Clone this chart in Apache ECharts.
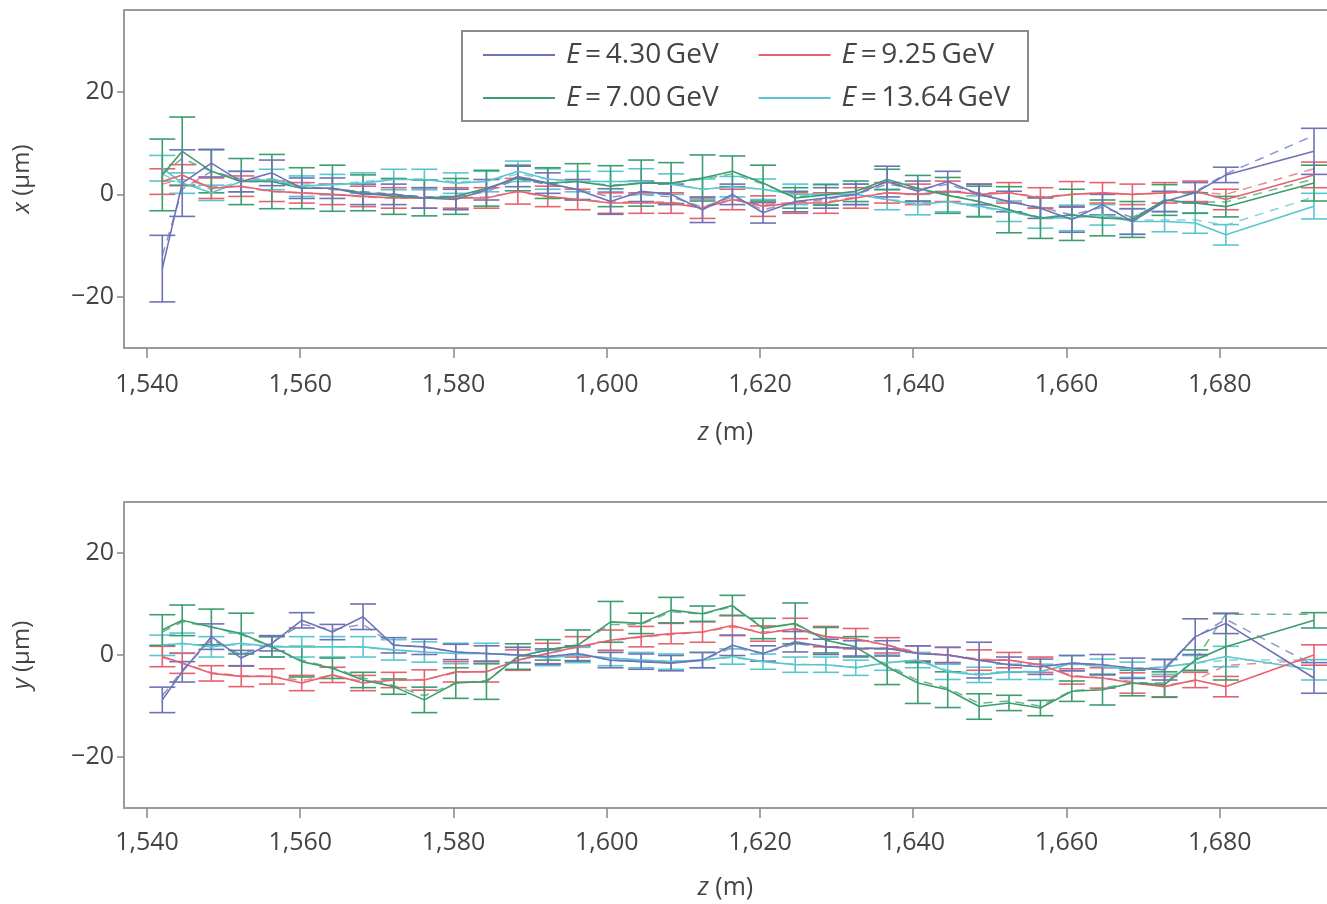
<!DOCTYPE html>
<html><head><meta charset="utf-8">
<script src="https://cdn.jsdelivr.net/npm/echarts@6/dist/echarts.min.js"></script>
<style>html,body{margin:0;padding:0;background:#fff}#c{width:1327px;height:904px}</style>
</head><body><div id="c"></div>
<script>
// ---------- data ----------
const zPos = [1542.0, 1544.6, 1548.4, 1552.3, 1556.3, 1560.2, 1564.2, 1568.2, 1572.2, 1576.2, 1580.3, 1584.3, 1588.4, 1592.3, 1596.2, 1600.5, 1604.5, 1608.4, 1612.5, 1616.4, 1620.4, 1624.6, 1628.6, 1632.5, 1636.6, 1640.6, 1644.5, 1648.6, 1652.5, 1656.6, 1660.7, 1664.7, 1668.6, 1672.8, 1676.8, 1680.8, 1692.3];
const seriesNames = ['E = 4.30 GeV', 'E = 7.00 GeV', 'E = 9.25 GeV', 'E = 13.64 GeV'];
const zTicks = [1540, 1560, 1580, 1600, 1620, 1640, 1660, 1680];
const vTicks = [-20, 0, 20];

// top panel: x (um)
const xBlue  = [-14.5, 2.2, 6.1, 2.5, 4.2, 1.2, 1.2, 0, 0, -0.7, -1, 0.9, 3.5, 2.2, 0.9, -1.4, 0.6, 0, -3, 0, -3.6, -1.4, -0.7, 0, 2.5, 0.6, 2.5, 0, -1.4, -2.7, -4.9, -2, -5.3, -1.4, 0.3, 3.8, 8.4];
const xGreen = [3.8, 8.4, 4.5, 2.5, 2.5, 1.2, 1.2, 0.3, -0.4, -0.7, -0.4, 1.2, 3.2, 2.2, 2.5, 1.6, 2.2, 2.2, 3.2, 4.5, 2.2, -0.7, -0.1, 0.6, 2.9, 1.2, -0.2, -1.4, -3, -4.6, -4, -4.6, -4.9, -1.1, -1.7, -2.4, 2.2];
const xRed   = [2.5, 3.8, 1.2, 1.6, 0.6, 0.3, 0, -0.4, -0.7, -0.7, -0.7, -0.7, 0.6, -0.4, -1, -1.7, -1.7, -1.7, -2.7, -1, -2.3, -1.7, -1.7, -0.7, 0.3, 0, 0.6, 0, 0.3, -0.7, 0, 0.3, 0, 0.3, 0.6, -1, 3.8];
const xCyan  = [5.1, 2.2, 0.3, 2.5, 2.9, 1.6, 1.9, 2.2, 2.9, 2.9, 2.2, 2.5, 4.5, 3, 2.5, 2.5, 2.5, 2, 1, 1.5, 1, 0, 0, 0, -1, -2, -1.4, -2.3, -3.3, -4.6, -4.6, -4, -5.3, -5.3, -5.6, -7.9, -2.3];
const xErrBlue  = [6.5, 6.5, 2.7, 2.0, 2.5, 2.0, 2.0, 2.0, 2.0, 2.0, 2.0, 2.0, 2.0, 2.0, 2.0, 2.5, 2.0, 2.0, 2.5, 2.0, 2.0, 2.0, 2.0, 2.0, 3.0, 2.0, 2.0, 2.0, 2.0, 2.0, 2.5, 2.0, 2.5, 2.0, 2.0, 1.5, 4.5];
const xErrGreen = [7.0, 6.7, 4.2, 4.5, 5.3, 4.0, 4.5, 3.5, 3.5, 3.5, 3.5, 3.5, 2.5, 3.0, 3.5, 4.0, 4.5, 4.0, 4.5, 3.0, 3.5, 2.0, 2.0, 2.0, 2.0, 2.5, 3.5, 3.0, 4.5, 4.0, 5.0, 3.5, 3.5, 3.0, 2.0, 2.0, 3.5];
const xErrRed   = [2.5, 2.0, 2.0, 2.0, 2.0, 2.0, 2.0, 2.0, 2.0, 2.0, 2.0, 2.0, 2.5, 2.0, 2.0, 2.0, 2.0, 2.0, 2.0, 2.0, 2.0, 2.0, 2.0, 2.0, 2.0, 2.0, 2.0, 2.0, 2.0, 2.0, 2.5, 2.0, 2.0, 2.0, 2.0, 2.0, 2.5];
const xErrCyan  = [2.5, 2.0, 1.5, 2.0, 2.0, 2.0, 2.0, 2.0, 2.0, 2.0, 2.0, 2.0, 2.0, 2.0, 2.0, 2.0, 2.5, 2.0, 2.0, 2.0, 2.0, 2.0, 2.0, 2.0, 2.0, 2.0, 2.0, 2.0, 2.0, 2.0, 2.5, 2.0, 2.5, 2.0, 2.0, 2.0, 2.5];
const xFitBlue  = [-12, 1, 4.5, 3, 3, 1.5, 1, 0.5, 0, -0.5, -0.5, 0.5, 3, 2, 1, -0.5, 0, -0.5, -2.5, -0.5, -3, -1.5, -1, 0, 2, 1, 2, 0, -1.5, -2.5, -4, -2.5, -4.5, -1.5, 0.5, 4, 11.5];
const xFitGreen = [4, 7, 4.5, 2.5, 2.5, 1.5, 1, 0.5, 0, -0.5, -0.3, 1, 3, 2, 2.5, 1.8, 2.2, 2.2, 3, 4, 2, -0.5, 0, 0.5, 2.5, 1, 0, -1.5, -3, -4.5, -4, -4.5, -4.5, -1.5, -1.5, -1.5, 3];
const xFitRed   = [2, 3, 1.5, 1.5, 0.5, 0.3, 0, -0.5, -0.7, -0.7, -0.7, -0.5, 0.5, -0.5, -1, -1.5, -1.5, -1.5, -2.5, -1, -2, -1.5, -1.5, -0.5, 0.3, 0, 0.5, 0.3, 0.3, -0.5, 0, 0.3, 0, 0.3, 0.5, 0, 5];
const xFitCyan  = [4, 2, 1, 2.5, 3, 2, 2, 2.5, 3, 3, 2.5, 2.5, 4, 3, 2.5, 2.5, 2.5, 2, 1, 1.5, 1, 0, 0, 0, -1, -1.5, -1.5, -2.5, -3.5, -4.5, -4.5, -4, -5, -5, -5, -6, -0.5];

// bottom panel: y (um)
const yBlue  = [-8.8, -3.3, 3.6, -0.6, 2.3, 6.8, 4.5, 7.5, 1.9, 1.6, 0.6, 0.3, 0, -0.3, 0.3, -1, -1.3, -1.6, -1, 1.9, 0.3, 2.6, 1.6, 1.3, 1.3, 0.3, 0, -1, -1.9, -2.3, -1.6, -1.9, -2.6, -2.9, 3.6, 6.2, -4.5];
const yGreen = [4.9, 6.8, 5.5, 4.2, 1.6, -1.3, -2.6, -4.9, -6.2, -8.8, -5.5, -5.2, -0.3, 1, 1.9, 6.5, 6.2, 8.8, 8.1, 9.7, 5.2, 6.2, 2.9, 1.6, -2.3, -5.5, -6.8, -10.1, -9.4, -10.4, -7.1, -6.8, -5.5, -5.8, -1, 1.6, 6.8];
const yRed   = [-0.3, -1.6, -3.6, -4.2, -4.2, -5.5, -3.9, -5.5, -4.9, -4.9, -3.3, -3.3, -1, 0.3, 1.6, 2.9, 3.6, 4.2, 4.5, 5.8, 4.2, 5.2, 3.6, 3.2, 1.9, 0.3, 0, -1, -1, -1.9, -4.2, -4.5, -5.5, -6.2, -4.9, -6.2, 0];
const yCyan  = [1.9, 2.3, 1.6, 2.3, 1.6, 1.6, 1.6, 1.6, 1, 0.6, 0.3, 0.3, 0, -0.6, 0, -0.6, -1, -1.3, -1, -0.3, -1.3, -1.9, -1.9, -2.5, -1.5, -1, -3.3, -3.9, -3.3, -3.3, -1.6, -2.3, -2.9, -2.3, -1.6, -0.3, -2.9];
const yErrBlue  = [2.5, 2.0, 2.5, 1.5, 1.5, 1.5, 1.5, 2.5, 1.5, 1.5, 1.5, 1.5, 1.5, 1.5, 1.5, 1.5, 1.5, 1.5, 1.5, 2.0, 1.5, 2.0, 1.5, 1.5, 1.5, 1.5, 1.5, 3.5, 1.5, 1.5, 1.5, 2.0, 2.0, 2.0, 3.5, 2.0, 3.0];
const yErrGreen = [3.0, 3.0, 3.5, 4.0, 2.0, 3.0, 2.0, 1.5, 1.5, 2.5, 3.0, 3.5, 2.5, 2.0, 3.0, 4.0, 2.0, 2.5, 1.5, 2.0, 2.0, 4.0, 2.5, 2.0, 3.5, 4.0, 3.5, 2.5, 1.5, 1.5, 2.0, 3.0, 2.5, 2.5, 2.0, 6.5, 1.5];
const yErrRed   = [2.0, 2.0, 1.5, 2.0, 1.5, 1.5, 1.5, 1.5, 1.5, 2.0, 2.0, 2.0, 2.0, 2.0, 2.0, 2.0, 2.0, 2.0, 2.0, 2.0, 1.5, 2.0, 2.0, 2.0, 1.5, 1.5, 1.5, 2.0, 1.5, 1.5, 1.5, 2.0, 2.0, 2.0, 1.5, 2.0, 2.0];
const yErrCyan  = [2.0, 2.0, 2.0, 2.0, 2.0, 2.0, 2.0, 2.0, 2.0, 2.0, 2.0, 2.0, 1.5, 1.5, 1.5, 1.5, 1.5, 1.5, 1.5, 1.5, 1.5, 1.5, 1.5, 1.5, 1.5, 1.5, 1.5, 1.5, 1.5, 1.5, 1.5, 1.5, 1.5, 1.5, 1.5, 2.0, 2.0];
const yFitBlue  = [-8, -3, 3, 0, 2.5, 6, 5, 6, 2, 1.5, 0.6, 0.3, 0, -0.3, 0.3, -1, -1.3, -1.5, -1, 1.5, 0.3, 2.2, 1.6, 1.3, 1.3, 0.3, 0, -1, -1.9, -2.3, -1.6, -1.9, -2.6, -2.5, 3.5, 7, -2];
const yFitGreen = [4.5, 6.5, 5.5, 4, 1.5, -1, -2.5, -4.5, -6, -8, -5.5, -5, -0.5, 1, 2, 6, 6, 8.5, 8, 9.5, 5.5, 6, 3, 1.5, -2, -5, -6.5, -9.5, -9, -10, -7, -6.5, -5.5, -5.5, -1, 8, 8];
const yFitRed   = [-0.5, -1.5, -3.5, -4, -4.2, -5, -4, -5.2, -5, -4.8, -3.5, -3.2, -1, 0.3, 1.5, 2.8, 3.5, 4, 4.5, 5.5, 4.5, 5, 3.6, 3, 2, 0.5, 0, -0.8, -1, -2, -4, -4.5, -5.2, -6, -5, -2, -1];
const yFitCyan  = [2, 2.2, 1.8, 2, 1.8, 1.6, 1.6, 1.5, 1, 0.6, 0.3, 0.3, 0, -0.5, 0, -0.6, -1, -1.2, -1, -0.5, -1.3, -1.8, -1.9, -2.4, -1.5, -1, -3, -3.7, -3.3, -3.2, -1.8, -2.3, -2.8, -2.3, -1.6, -1, -1];

// ---------- styling ----------
const colors = ['#6e72b6', '#3c9d6e', '#e6626e', '#58c6cf'];
const FONT = '"Open Sans", "Noto Sans", sans-serif';
const TXT = '#444';
const FRAME = '#9a9a9a';

const panels = [
  {vals: [xBlue, xGreen, xRed, xCyan], errs: [xErrBlue, xErrGreen, xErrRed, xErrCyan], fits: [xFitBlue, xFitGreen, xFitRed, xFitCyan], vname: 'x'},
  {vals: [yBlue, yGreen, yRed, yCyan], errs: [yErrBlue, yErrGreen, yErrRed, yErrCyan], fits: [yFitBlue, yFitGreen, yFitRed, yFitCyan], vname: 'y'}
];

function fmtComma(v) { const s = String(Math.round(v)); return s.length > 3 ? s.slice(0, s.length - 3) + ',' + s.slice(-3) : s; }
function fmtMinus(v) { return v < 0 ? '\u2212' + (-v) : String(v); }

function errRender(color) {
  return function (params, api) {
    const z = api.value(0), lo = api.value(1), hi = api.value(2);
    const a = api.coord([z, lo]), b = api.coord([z, hi]);
    const w = 13;
    const st = {stroke: color, lineWidth: 1.6, fill: null};
    return {type: 'group', children: [
      {type: 'line', shape: {x1: a[0], y1: a[1], x2: b[0], y2: b[1]}, style: st},
      {type: 'line', shape: {x1: a[0] - w, y1: a[1], x2: a[0] + w, y2: a[1]}, style: st},
      {type: 'line', shape: {x1: b[0] - w, y1: b[1], x2: b[0] + w, y2: b[1]}, style: st}
    ]};
  };
}

const grids = [
  {left: 124, top: 10, right: 0, height: 338},
  {left: 124, top: 502, right: 0, height: 306}
].map(g => Object.assign(g, {show: false}));

const ZMIN = 1537, ZMAX = 1694;
const xAxes = [0, 1].map(i => ({
  type: 'value', gridIndex: i, min: ZMIN, max: ZMAX, position: 'bottom',
  axisLine: {show: true, onZero: false, lineStyle: {color: FRAME, width: 2}},
  axisTick: {show: true, length: 10, lineStyle: {color: '#888', width: 1.5}, customValues: zTicks},
  axisLabel: {customValues: zTicks, formatter: fmtComma, fontSize: 25, color: TXT, margin: i === 0 ? 24 : 22, fontFamily: FONT},
  splitLine: {show: false},
  name: '{i|z} (m)', nameLocation: 'middle', nameGap: i === 0 ? 72 : 67,
  nameTextStyle: {fontSize: 25, color: TXT, fontFamily: FONT, rich: {i: {fontStyle: 'italic', fontSize: 25, color: TXT, fontFamily: FONT}}}
})).concat([0, 1].map(i => ({
  type: 'value', gridIndex: i, min: ZMIN, max: ZMAX, position: 'top',
  axisLine: {show: true, onZero: false, lineStyle: {color: FRAME, width: 2}},
  axisTick: {show: false}, axisLabel: {show: false}, splitLine: {show: false}
})));

const yAxes = [0, 1].map(i => ({
  type: 'value', gridIndex: i, min: -30, max: i === 0 ? 36 : 30,
  axisLine: {show: true, onZero: false, lineStyle: {color: FRAME, width: 2}},
  axisTick: {show: true, length: 7, lineStyle: {color: '#888', width: 1.5}, customValues: vTicks},
  axisLabel: {customValues: vTicks, formatter: fmtMinus, fontSize: 25, color: TXT, margin: 10, fontFamily: FONT},
  splitLine: {show: false},
  name: '{i|' + panels[i].vname + '} (\u03bcm)', nameLocation: 'middle', nameGap: 90,
  nameTextStyle: {fontSize: 24, color: TXT, fontFamily: FONT, rich: {i: {fontStyle: 'italic', fontSize: 24, color: TXT, fontFamily: FONT}}}
}));

const series = [];
const drawOrder = [3, 2, 1, 0];
panels.forEach((p, pi) => {
  drawOrder.forEach(k => {
    series.push({
      name: 'fit' + pi + '_' + k, type: 'line', xAxisIndex: pi, yAxisIndex: pi,
      data: zPos.map((z, j) => [z, p.fits[k][j]]), symbol: 'none', silent: true,
      lineStyle: {color: colors[k], width: 1.5, type: [9, 7], opacity: 0.75}, z: 2
    });
    series.push({
      name: 'err' + pi + '_' + k, type: 'custom', xAxisIndex: pi, yAxisIndex: pi,
      data: zPos.map((z, j) => [z, p.vals[k][j] - p.errs[k][j], p.vals[k][j] + p.errs[k][j]]),
      encode: {x: 0, y: [1, 2]}, renderItem: errRender(colors[k]), silent: true, z: 3
    });
    series.push({
      name: seriesNames[k], type: 'line', xAxisIndex: pi, yAxisIndex: pi,
      data: zPos.map((z, j) => [z, p.vals[k][j]]), symbol: 'none', color: colors[k],
      lineStyle: {color: colors[k], width: 1.6}, z: 4
    });
  });
});

const legendFmt = name => '{i|E}{n|\u2009=\u2009' + name.replace('E = ', '').replace(' GeV', '\u2009GeV') + '}';
const LFS = 28;
const legendText = {
  color: TXT, fontFamily: FONT, fontSize: LFS, padding: [0, 0, 0, 6],
  rich: {i: {fontStyle: 'italic', fontSize: LFS, color: TXT, fontFamily: FONT}, n: {fontSize: LFS, color: TXT, fontFamily: FONT}}
};
const legends = [[seriesNames[0], seriesNames[2]], [seriesNames[1], seriesNames[3]]].map((d, r) => ({
  data: d, left: 483, top: r === 0 ? 41 : 84, orient: 'horizontal', icon: 'rect',
  itemWidth: 72, itemHeight: 2, itemGap: 40, formatter: legendFmt, textStyle: legendText,
  selectedMode: false, padding: 0
}));

const chart = echarts.init(document.getElementById('c'), null, {renderer: 'canvas'});
chart.setOption({
  animation: false,
  backgroundColor: '#fff',
  grid: grids, xAxis: xAxes, yAxis: yAxes,
  legend: legends,
  graphic: [{type: 'rect', left: 461, top: 30, shape: {width: 566, height: 90}, style: {fill: 'rgba(255,255,255,0)', stroke: '#8a8a8a', lineWidth: 2}, z: 100}],
  series: series
});
</script></body></html>
